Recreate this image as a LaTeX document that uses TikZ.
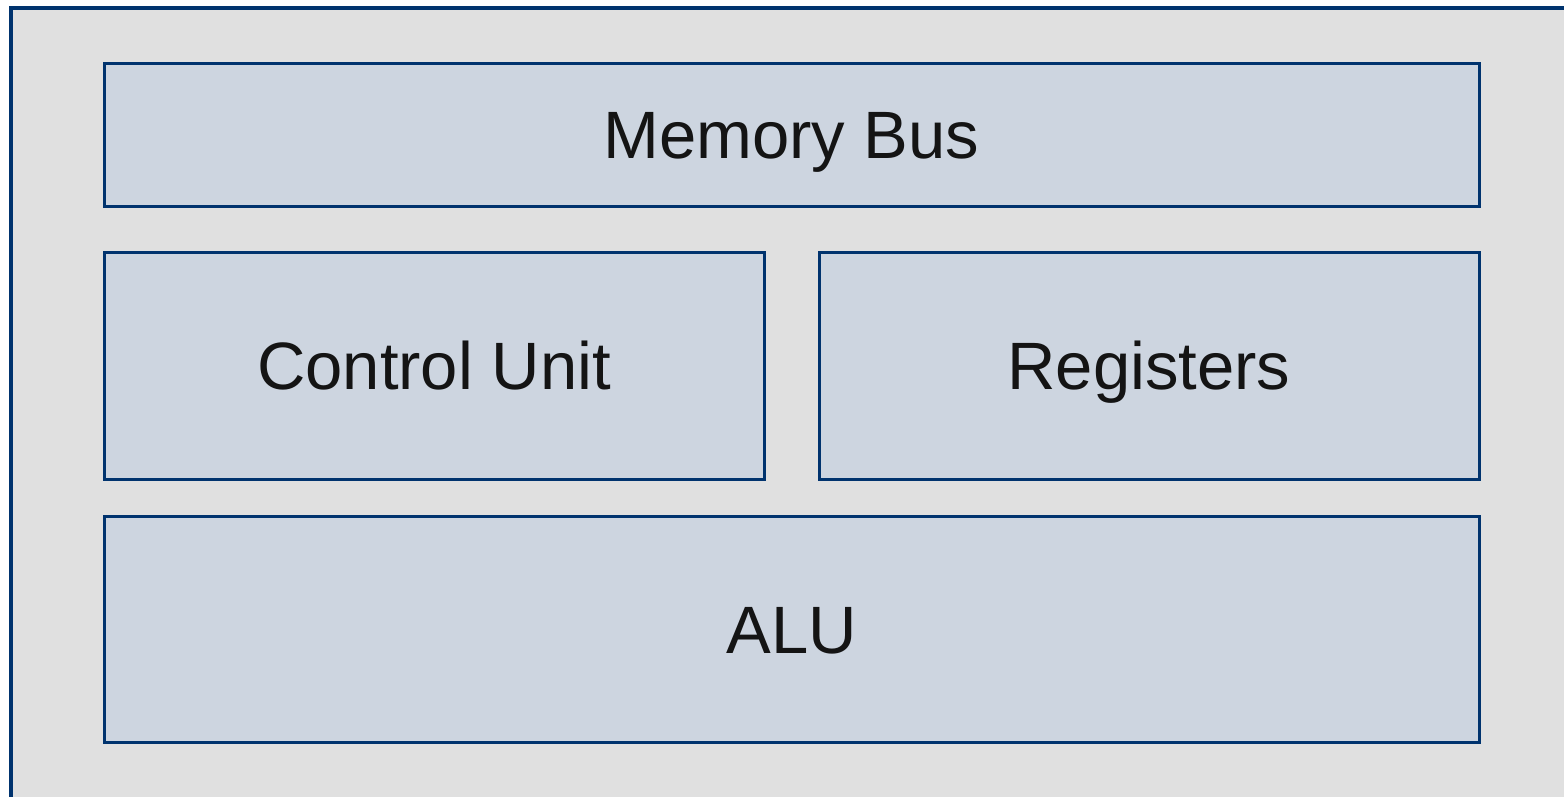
\documentclass[tikz,border=0pt]{standalone}
\usepackage{fontspec}
\setmainfont{Liberation Sans}
\definecolor{frameblue}{RGB}{0,51,110}
\definecolor{panelgray}{RGB}{224,224,224}
\definecolor{blockfill}{RGB}{205,213,224}
\begin{document}
\begin{tikzpicture}[x=1pt,y=-1pt,
  block/.style={draw=frameblue,line width=3pt,fill=blockfill,
    inner sep=0pt,text height=48pt,text depth=0pt,
    font=\fontsize{67}{80}\selectfont,text=black!92}]
\useasboundingbox (0,0) rectangle (1564,796);
\fill[white] (0,0) rectangle (1564,796);
% outer panel, running past the right and bottom edges
\begin{scope}
\clip (0,0) rectangle (1564,796);
\draw[frameblue,line width=4pt,fill=panelgray] (11,8) rectangle (1580,820);
\end{scope}
% blocks
\node[block,minimum width=1375pt,minimum height=143pt] (bus) at (791.5,134.5) {Memory Bus};
\node[block,minimum width=660pt,minimum height=227pt] (cu) at (434,365.5) {Control Unit};
\node[block,minimum width=660pt,minimum height=227pt] (reg) at (1149,365.5) {Registers};
\node[block,minimum width=1375pt,minimum height=226pt] (alu) at (791.5,629) {ALU};
\end{tikzpicture}
\end{document}
